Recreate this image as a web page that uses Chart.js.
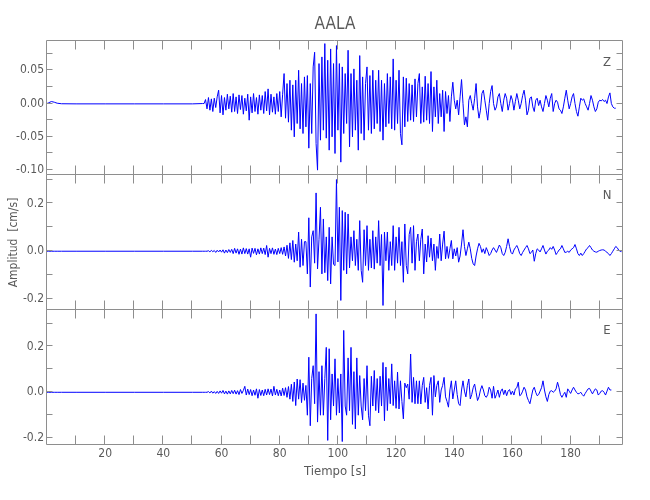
<!DOCTYPE html>
<html>
<head>
<meta charset="utf-8">
<script src="https://cdn.jsdelivr.net/npm/chart.js@4/dist/chart.umd.min.js"></script>
<style>
  html, body { margin: 0; padding: 0; background: #fff; }
  #wrap { position: relative; width: 650px; height: 500px; }
  canvas { position: absolute; left: 0; }
</style>
</head>
<body>
<div id="wrap">
  <canvas id="panel-z" width="650" height="180" style="top:0"></canvas>
  <canvas id="panel-n" width="650" height="145" style="top:170px"></canvas>
  <canvas id="panel-e" width="650" height="195" style="top:305px"></canvas>
</div>
<script>
// Station AALA, three components, amplitude in 1e-3 cm/s

// quiet part before the arrivals
const preTimes = [0, 0.5, 1.5, 2.5, 3.5, 5, 10, 20, 30, 40, 50, 53.5];
const zPre = [0, 1, 3, 2, 0.5, -0.3, -0.5, -0.5, -0.5, -0.5, -0.5, 0];
const nPre = [0, 0, 0, 0, 0, 0, 0, 0, 0, 0, 0, 0];
const ePre = [0, 0, 0, 0, 0, 0, 0, 0, 0, 0, 0, 0];

// waveforms, one value every 0.5 s from 54 s
const waveStart = 54;
const waveStep = 0.5;

const zWave = [
    0, 6, -8, 9, -10, 7, -12, 8, -6, 10,
    20, -14, 12, -17, 9, -10, 14, -8, 11, -13,
    15, -12, 10, -15, 13, -9, 12, -16, 8, -11,
    14, -25, 10, -14, 15, -12, 9, -16, 13, -10,
    12, -15, 18, -11, 22, -17, 14, -13, 10, -16,
    15, -12, 18, -20, 14, 45, -22, 30, -28, 35,
    -40, 28, -50, 35, -30, 50, -38, 30, -45, 40,
    -35, 42, -67, 30, -45, 55, 77, -60, -100, 60,
    -55, 70, -40, 90, -52, 65, -70, 82, -50, 60,
    -75, 87, -40, 60, -88, 55, -45, 45, -30, 80,
    -65, 45, -50, 52, -40, 35, -70, 72, -45, 40,
    -55, 30, 55, -40, 42, -45, 50, -38, 35, -30,
    50, -42, 35, -55, 30, -35, 45, -30, 40, -38,
    67, -40, 35, -30, 50, -45, -62, 40, -35, 38,
    -27, 30, -25, 28, -27, 37, -20, 30, 45, -30,
    25, -28, 41, -25, 30, -30, 48, -42, 25, -20,
    35, -30, 15, -20, 20, -42, 18, -15, 12, -27,
    10, 32, 5, -8, 5, -17, 10, 36, 0, -32,
    -20, -35, 5, 12, 0, -10, 8, 30, -5, -22,
    -10, 15, 20, 5, -10, -25, 0, 18, 27, 0,
    -10, -5, 10, 15, 0, -12, 5, 15, 8, -10,
    0, 12, 5, -10, 3, 15, 5, -8, 0, 12,
    20, 5, -17, -10, 8, 10, -5, -12, 5, 8,
    -3, 5, -5, -12, 0, 12, 5, -5, 8, 15,
    -12, 0, 5, 2, -8, -10, -15, -5, 8, 20,
    5, -8, 0, 10, 15, 0, -12, -19, -5, 8,
    5, 7, 0, -5, -10, 0, 12, 5, -5, -12,
    -8, 2, 5, 4, 6, 3, 5, 0, 10, 16,
    0, -5, -7, -7
];

const nWave = [
    0, 0, 0, 2, -3, 4, -2, 3, -5, 4,
    -3, 5, -4, 6, -8, 5, -6, 7, -5, 8,
    -10, 12, -8, 10, -13, 9, -12, 14, -10, 11,
    -12, 10, -25, 13, -9, 12, -15, 10, -12, 14,
    -10, 13, -14, 24, -25, 12, -10, 14, -13, 9,
    -14, 12, -10, 15, -13, 18, -20, 25, -30, 35,
    -35, 45, -46, 30, -40, 80, -67, 50, -60, 40,
    40, -95, 140, -150, 60, 86, -50, 244, -74, 50,
    184, -95, 135, -90, 60, -123, 100, -137, 60, -55,
    -60, 300, -45, 184, -206, 170, -80, 163, -95, 156,
    -70, 60, -40, 86, -60, 50, -80, 128, -80, -130,
    90, -60, 107, -80, 50, -70, 86, -75, 60, -50,
    128, -60, 70, -227, 80, -40, 80, -80, 40, -60,
    107, -80, 60, -50, 100, -60, 40, -130, 114, -60,
    -95, 70, 100, -50, 107, -80, 40, 72, -40, 50,
    93, -95, 30, -45, 65, -25, 55, -40, 30, -80,
    20, -30, 72, -40, 30, 84, -32, 20, -30, 10,
    45, -32, 10, -20, 15, -46, -20, 30, 90, 20,
    -18, 10, 38, 10, -30, -53, -60, -20, 10, 33,
    20, -5, 10, -10, 15, 0, -18, -10, 5, 15,
    5, -5, 10, 26, 15, -10, -18, -5, 20, 52,
    20, -5, -12, 5, 15, 24, 10, -10, -18, -5,
    5, 15, 24, 10, -10, -5, 5, -42, -10, 10,
    5, -3, 10, 24, 5, -12, 0, 5, 15, 8,
    20, 5, -14, -5, 5, 10, 24, 10, -5, -4,
    0, -5, 5, 10, 15, 28, 10, -10, -18, -8,
    -18, -10, 0, 10, 15, 24, 15, 5, 0, -3,
    -4, 0, 3, 5, 6, 5, 0, -5, -10, -18,
    -10, 0, 10, 20, 15, 5, 0, -2
];

const eWave = [
    0, 0, 0, 3, -3, 5, -4, 3, -5, 4,
    -5, 6, -4, 8, -7, 5, -8, 6, -7, 8,
    -6, 9, -8, 7, -10, 12, -5, 8, 26, -12,
    14, -10, 12, -15, 10, -13, 15, -26, 12, -14,
    10, -15, 13, -12, 15, -10, 14, -16, 26, -12,
    13, -15, 10, -16, 18, -14, 20, -22, 25, -30,
    35, -40, 45, -58, 58, -30, 55, -45, 40, -35,
    30, -100, 153, -146, 60, 116, -50, 342, -130, 90,
    -100, 116, -100, 60, 196, -210, 190, -120, 80, -60,
    146, -100, 60, -90, 80, -215, 270, -60, -100, 150,
    -80, 196, -140, 90, -160, 150, -100, 73, -60, -120,
    60, -80, 116, -100, -146, 70, -60, 95, -80, 60,
    -90, 70, -60, 130, -124, 110, -80, 60, -50, 124,
    -58, 50, -70, 88, -73, 50, -40, -116, 40, 20,
    36, -30, 167, -44, 65, -50, 50, -50, 50, -51,
    30, 65, -44, 20, -73, 30, 65, -100, 73, -20,
    30, 50, -44, 10, 30, 65, -20, -40, -65, 10,
    50, -29, 10, 50, -10, -50, -58, 10, 50, 5,
    -20, 30, 58, -29, -10, 20, 36, 0, -36, -20,
    10, 29, 10, -15, -22, -10, 22, 10, -26, 26,
    -26, -10, 10, -22, 5, 15, -10, 10, -15, 5,
    12, -10, 5, -12, 15, 20, 44, -15, -10, 5,
    22, 10, -20, -36, -50, -20, 10, 22, 0, -15,
    -10, 5, 20, 50, 10, -20, -40, -10, 5, 7,
    0, 5, 15, 44, 20, -10, -22, -10, 0, -22,
    15, 5, -5, 10, 22, 10, 0, -7, -5, 0,
    -10, -17, -5, 5, 15, 17, 5, -7, 5, 15,
    10, -12, -5, 5, 7, 0, -12, 5, 22, 10,
    10
];

// axes
const xTickVals = [10, 20, 30, 40, 50, 60, 70, 80, 90, 100, 110, 120, 130, 140, 150, 160, 170, 180, 190];
const xLabelVals = [20, 40, 60, 80, 100, 120, 140, 160, 180];
const zTickVals = [-0.1, -0.075, -0.05, -0.025, 0, 0.025, 0.05, 0.075];
const zLabelVals = [-0.1, -0.05, 0, 0.05];
const neTickVals = [-0.2, -0.1, 0, 0.1, 0.2, 0.3];
const neLabelVals = [-0.2, 0, 0.2];

const FONT = "'Liberation Sans Narrow', 'DejaVu Sans Condensed', 'Liberation Sans', sans-serif";
const TEXT = '#5a5a5a';
const FRAME = '#8e8e8e';

function trace(pre, wave) {
    const pts = preTimes.map((t, i) => ({ x: t, y: pre[i] / 1000 }));
    wave.forEach((v, i) => pts.push({ x: waveStart + i * waveStep, y: v / 1000 }));
    return pts;
}

// box round each panel with inward ticks on all four sides, plus component letter
const panelFrame = {
    id: 'panelFrame',
    afterDatasetsDraw(chart, args, opts) {
        const { ctx, chartArea: a, scales: { x, y } } = chart;
        const L = Math.round(a.left) - 0.5, R = Math.round(a.right) - 0.5;
        const T = Math.round(a.top) - 0.5, B = Math.round(a.bottom) - 0.5;
        ctx.save();
        ctx.strokeStyle = FRAME;
        ctx.lineWidth = 1;
        ctx.beginPath();
        ctx.rect(L, T, R - L, B - T);
        xTickVals.forEach(v => {
            const px = Math.round(x.getPixelForValue(v)) - 0.5;
            ctx.moveTo(px, T); ctx.lineTo(px, T + 9);
            ctx.moveTo(px, B); ctx.lineTo(px, B - 9);
        });
        opts.yTicks.forEach(v => {
            const py = Math.round(y.getPixelForValue(v)) - 0.5;
            ctx.moveTo(L, py); ctx.lineTo(L + 6, py);
            ctx.moveTo(R, py); ctx.lineTo(R - 6, py);
        });
        ctx.stroke();
        ctx.fillStyle = TEXT;
        ctx.font = '13px ' + FONT;
        ctx.textAlign = 'center';
        ctx.textBaseline = 'middle';
        ctx.fillText(opts.letter, a.right - 16, a.top + 21);
        ctx.restore();
    }
};

function makePanel(id, cfg) {
    return new Chart(document.getElementById(id), {
        type: 'line',
        data: {
            datasets: [{
                data: cfg.data,
                borderColor: '#0000ff',
                borderWidth: 1,
                pointRadius: 0,
                tension: 0,
                fill: false,
            }]
        },
        options: {
            responsive: false,
            animation: false,
            devicePixelRatio: 1,
            parsing: false,
            normalized: true,
            layout: { padding: cfg.padding },
            scales: {
                x: {
                    type: 'linear',
                    min: 0,
                    max: 198,
                    display: cfg.showX,
                    grid: { display: false, drawTicks: false },
                    border: { display: false },
                    afterBuildTicks: s => { s.ticks = xLabelVals.map(v => ({ value: v })); },
                    afterFit: s => {
                        if (cfg.showX) s.height = 55;
                        s.paddingLeft = 0;
                        s.paddingRight = 0;
                    },
                    ticks: {
                        padding: 2,
                        color: TEXT,
                        font: { family: FONT, size: 12 },
                        maxRotation: 0,
                        autoSkip: false,
                    },
                    title: {
                        display: cfg.showX,
                        text: 'Tiempo [s]',
                        color: TEXT,
                        font: { family: FONT, size: 13 },
                        padding: { top: 0, bottom: 21 },
                    }
                },
                y: {
                    type: 'linear',
                    min: cfg.yMin,
                    max: cfg.yMax,
                    grid: { display: false, drawTicks: false },
                    border: { display: false },
                    afterBuildTicks: s => { s.ticks = cfg.labelVals.map(v => ({ value: v })); },
                    afterFit: s => {
                        s.width = 47;
                        s.paddingTop = 0;
                        s.paddingBottom = 0;
                    },
                    ticks: {
                        padding: 3,
                        color: TEXT,
                        font: { family: FONT, size: 12 },
                        callback: v => v.toFixed(cfg.digits),
                    },
                    title: {
                        display: !!cfg.yTitle,
                        text: cfg.yTitle || '',
                        color: TEXT,
                        font: { family: FONT, size: 12 },
                        padding: { top: 7, bottom: 0 },
                    }
                }
            },
            plugins: {
                legend: { display: false },
                tooltip: { enabled: false },
                title: cfg.title ? {
                    display: true,
                    text: cfg.title,
                    fullSize: false,
                    color: TEXT,
                    font: { family: FONT, size: 17, weight: 'normal' },
                    padding: { top: 14, bottom: 7 },
                } : { display: false },
                panelFrame: { letter: cfg.letter, yTicks: cfg.tickVals },
            }
        },
        plugins: [panelFrame]
    });
}

makePanel('panel-z', {
    data: trace(zPre, zWave),
    yMin: -0.1073, yMax: 0.0933,
    labelVals: zLabelVals, tickVals: zTickVals, digits: 2,
    letter: 'Z', title: 'AALA', showX: false,
    padding: { left: 0, right: 27, top: 0, bottom: 5 },
});

makePanel('panel-n', {
    data: trace(nPre, nWave),
    yMin: -0.246, yMax: 0.319,
    labelVals: neLabelVals, tickVals: neTickVals, digits: 1,
    letter: 'N', yTitle: 'Amplitud  [cm/s]', showX: false,
    padding: { left: 0, right: 27, top: 5, bottom: 5 },
});

makePanel('panel-e', {
    data: trace(ePre, eWave),
    yMin: -0.23, yMax: 0.359,
    labelVals: neLabelVals, tickVals: neTickVals, digits: 1,
    letter: 'E', showX: true,
    padding: { left: 0, right: 27, top: 5, bottom: 0 },
});
</script>
</body>
</html>
